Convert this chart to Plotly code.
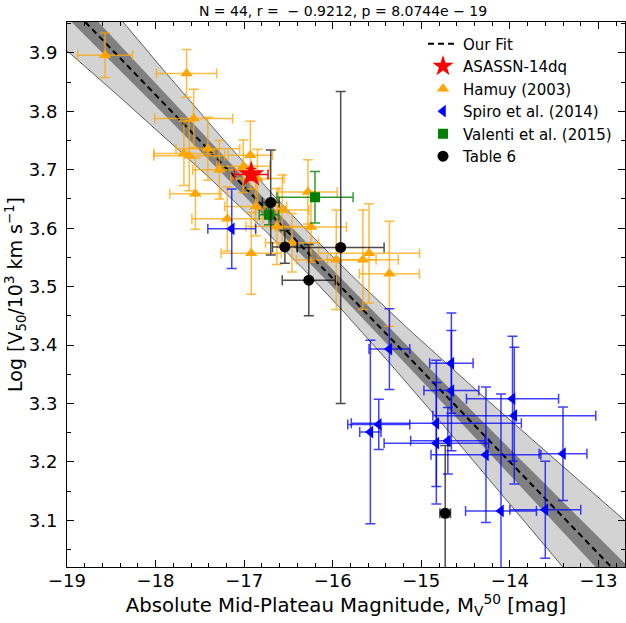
import numpy as np
import plotly.graph_objects as go

# ---- data -------------------------------------------------------------
# Hamuy (2003)
hamuy_mv = [-18.57, -17.65, -17.57, -17.41, -17.68, -17.62, -17.28, -16.93,
            -17.01, -16.85, -17.55, -17.19, -16.92, -16.87, -16.57, -16.63,
            -16.46, -16.28, -16.245, -15.96, -15.66, -15.59, -15.36]
hamuy_v = [3.896, 3.865, 3.788, 3.736, 3.728, 3.724, 3.700, 3.725,
           3.706, 3.685, 3.659, 3.616, 3.557, 3.637, 3.631, 3.603,
           3.575, 3.662, 3.602, 3.546, 3.546, 3.557, 3.522]
hamuy_mv_err = [0.31, 0.34, 0.44, 0.36, 0.34, 0.40, 0.30, 0.25,
                0.30, 0.30, 0.29, 0.40, 0.34, 0.35, 0.30, 0.35,
                0.30, 0.33, 0.40, 0.45, 0.40, 0.57, 0.34]
hamuy_v_err = [0.038, 0.041, 0.050, 0.054, 0.055, 0.060, 0.050, 0.058,
               0.045, 0.050, 0.061, 0.055, 0.070, 0.050, 0.060, 0.065,
               0.050, 0.055, 0.060, 0.085, 0.085, 0.085, 0.090]

# Spiro et al. (2014)
spiro_mv = [-17.14, -15.36, -14.66, -14.66, -13.97, -13.95, -15.48, -15.575,
            -14.83, -14.83, -14.70, -14.27, -13.40, -14.10, -13.60]
spiro_v = [3.599, 3.393, 3.369, 3.322, 3.308, 3.279, 3.264, 3.251,
           3.266, 3.232, 3.236, 3.212, 3.214, 3.116, 3.118]
spiro_mv_err = [0.27, 0.23, 0.245, 0.31, 0.52, 0.92, 0.35, 0.12,
                0.96, 0.59, 0.42, 0.62, 0.27, 0.40, 0.40]
spiro_v_err = [0.068, 0.069, 0.086, 0.103, 0.107, 0.117, 0.043, 0.157,
               0.108, 0.104, 0.057, 0.116, 0.080, 0.200, 0.083]

# Valenti et al. (2015)
valenti_mv = [-16.72, -16.20]
valenti_v = [3.623, 3.653]
valenti_mv_err = [0.11, 0.43]
valenti_v_err = [0.017, 0.044]

# Table 6
tab6_mv = [-16.70, -16.54, -16.27, -15.91, -14.73]
tab6_v = [3.644, 3.568, 3.511, 3.567, 3.112]
tab6_mv_err = [0.095, 0.14, 0.30, 0.49, 0.06]
tab6_v_err = [0.090, 0.028, 0.061, 0.267, 0.116]

# ASASSN-14dq
sn_mv = [-16.92]
sn_v = [3.692]
sn_mv_err = [0.19]
sn_v_err = [0.01]

# Linear fit  log V50 = a + b (M + 15) and its uncertainty bands
fit_slope = -0.1571
fit_at_m15 = 3.357
band_pivot = -16.3
inner_band = (0.0145, 0.0073)   # (width at pivot, growth per mag)
outer_band = (0.036, 0.027)

x_range = [-19, -12.7]
y_range = [3.02, 3.953]

FONT = "DejaVu Sans"

# ---- figure -----------------------------------------------------------
fig = go.Figure()

xf = np.linspace(-19.5, -12.2, 300)
yf = fit_at_m15 + fit_slope * (xf + 15)


def half_width(params):
    a, b = params
    return np.sqrt(a ** 2 + (b * (xf - band_pivot)) ** 2)


w_out = half_width(outer_band)
w_in = half_width(inner_band)

# outer (light) band with thin edges
fig.add_trace(go.Scatter(x=xf, y=yf - w_out, mode="lines",
                         line=dict(color="black", width=0.6),
                         showlegend=False, hoverinfo="skip"))
fig.add_trace(go.Scatter(x=xf, y=yf + w_out, mode="lines",
                         line=dict(color="black", width=0.6),
                         fill="tonexty", fillcolor="#d3d3d3",
                         showlegend=False, hoverinfo="skip"))
# inner (dark) band
fig.add_trace(go.Scatter(x=xf, y=yf - w_in, mode="lines",
                         line=dict(color="#808080", width=0),
                         showlegend=False, hoverinfo="skip"))
fig.add_trace(go.Scatter(x=xf, y=yf + w_in, mode="lines",
                         line=dict(color="#808080", width=0),
                         fill="tonexty", fillcolor="#808080",
                         showlegend=False, hoverinfo="skip"))
# best fit
fig.add_trace(go.Scatter(x=xf, y=yf, mode="lines", name="Our Fit",
                         legendgroup="fit", legendrank=1,
                         line=dict(color="black", width=2, dash="6px,4px"),
                         hoverinfo="skip"))


def add_points(name, mv, v, mv_err, v_err, symbol, color, ecolor, size, rank):
    fig.add_trace(go.Scatter(
        x=mv, y=v, mode="markers", name=name, legendrank=rank, legendgroup=name,
        marker=dict(symbol=symbol, color=color, size=size, line=dict(width=0)),
        error_x=dict(type="data", array=mv_err, color=ecolor, thickness=1.5, width=5),
        error_y=dict(type="data", array=v_err, color=ecolor, thickness=1.5, width=5),
    ))


add_points("Hamuy (2003)", hamuy_mv, hamuy_v, hamuy_mv_err, hamuy_v_err,
           "triangle-up", "#FFA500", "rgba(255,165,0,0.75)", 11, 3)
add_points("Spiro et al. (2014)", spiro_mv, spiro_v, spiro_mv_err, spiro_v_err,
           "triangle-left", "#0000FF", "rgba(0,0,255,0.75)", 11, 4)
add_points("Valenti et al. (2015)", valenti_mv, valenti_v, valenti_mv_err, valenti_v_err,
           "square", "#008000", "rgba(0,128,0,0.8)", 10, 5)
add_points("Table 6", tab6_mv, tab6_v, tab6_mv_err, tab6_v_err,
           "circle", "black", "rgba(0,0,0,0.7)", 11, 6)
add_points("ASASSN-14dq", sn_mv, sn_v, sn_mv_err, sn_v_err,
           "star", "red", "red", 20, 2)

axis_common = dict(
    showline=True, linecolor="black", linewidth=1, mirror="allticks",
    ticks="inside", ticklen=7, tickwidth=1, tickcolor="black",
    showgrid=False, zeroline=False,
    tickfont=dict(family=FONT, size=18, color="black"),
)

fig.update_xaxes(
    range=x_range, dtick=1, tick0=-19, ticklabelstandoff=-3,
    minor=dict(ticks="inside", ticklen=4, dtick=0.2, tickcolor="black", showgrid=False),
    title=dict(text="Absolute Mid-Plateau Magnitude, M<sub>V</sub><sup>50</sup> [mag]",
               font=dict(family=FONT, size=19.7, color="black"), standoff=4),
    **axis_common,
)
fig.update_yaxes(
    range=y_range, dtick=0.1, tick0=3.0, tickformat=".1f", ticklabelstandoff=5,
    minor=dict(ticks="inside", ticklen=4, dtick=0.05, tickcolor="black", showgrid=False),
    title=dict(text="Log [V<sub>50</sub>/10<sup>3</sup> km s<sup>\u22121</sup>]",
               font=dict(family=FONT, size=19, color="black"), standoff=0),
    **axis_common,
)

fig.update_layout(
    width=626, height=623,
    margin=dict(l=67, r=1, t=22, b=56),
    paper_bgcolor="white", plot_bgcolor="white",
    title=dict(text="N = 44, r =  \u2212 0.9212, p = 8.0744e \u2212 19",
               x=0.548, xanchor="center", y=0.982, yanchor="middle",
               font=dict(family=FONT, size=14, color="black")),
    legend=dict(x=0.638, y=0.99, xanchor="left", yanchor="top",
                traceorder="normal",
                bgcolor="rgba(0,0,0,0)", borderwidth=0,
                font=dict(family=FONT, size=15, color="black"),
                itemsizing="trace", tracegroupgap=0),
    showlegend=True,
)

fig.write_html("out.html")
